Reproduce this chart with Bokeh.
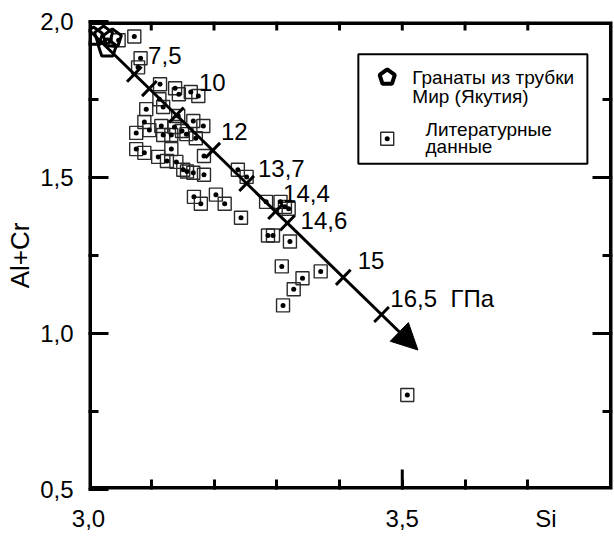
import math
from bokeh.plotting import figure
from bokeh.models import (FixedTicker, CustomJSTickFormatter, Arrow,
                          NormalHead, ColumnDataSource)
from bokeh.core.properties import value
from bokeh.embed import file_html
from bokeh.resources import INLINE

# ---------------- data ----------------
# literature data (squares with dots)
SI_LIT = [3.048, 3.073, 3.083, 3.079, 3.114, 3.138, 3.144, 3.163, 3.175, 3.113,
          3.119, 3.092, 3.143, 3.089, 3.097, 3.076, 3.116, 3.137, 3.149, 3.167,
          3.183, 3.119, 3.132, 3.156, 3.171, 3.132, 3.076, 3.089, 3.111, 3.125,
          3.140, 3.151, 3.157, 3.167, 3.184, 3.184, 3.238, 3.252, 3.168, 3.179,
          3.203, 3.217, 3.243, 3.283, 3.306, 3.313, 3.319, 3.286, 3.294, 3.321,
          3.308, 3.341, 3.327, 3.370, 3.310, 3.508]
ALCR_LIT = [1.940, 1.952, 1.882, 1.853, 1.799, 1.786, 1.767, 1.774, 1.761, 1.751,
            1.726, 1.719, 1.697, 1.678, 1.652, 1.643, 1.665, 1.662, 1.649, 1.681,
            1.665, 1.636, 1.636, 1.639, 1.626, 1.591, 1.591, 1.579, 1.566, 1.553,
            1.550, 1.525, 1.519, 1.515, 1.509, 1.569, 1.525, 1.502, 1.438, 1.416,
            1.445, 1.416, 1.371, 1.422, 1.422, 1.406, 1.400, 1.314, 1.314, 1.295,
            1.215, 1.177, 1.142, 1.199, 1.090, 0.803]
# garnets from the Mir pipe (pentagons)
SI_MIR = [3.008, 3.024, 3.038, 3.030]
ALCR_MIR = [1.952, 1.955, 1.946, 1.914]

# pressure trend arrow
ARROW_SI = [3.0016, 3.525]
ARROW_ALCR = [1.971, 0.947]
CROSS_SI = [3.073, 3.097, 3.140, 3.198, 3.252, 3.298, 3.317, 3.406, 3.467]
CROSS_ALCR = [1.831, 1.785, 1.700, 1.587, 1.481, 1.391, 1.354, 1.180, 1.061]
P_LABELS = ["7,5", "10", "12", "13,7", "14,4", "14,6", "15",
            "16,5\u00a0\u00a0ГПа"]
P_LABEL_SI = [3.095, 3.176, 3.211, 3.270, 3.310, 3.338, 3.429, 3.481]
P_LABEL_ALCR = [1.892, 1.805, 1.646, 1.528, 1.448, 1.362, 1.234, 1.113]

X_MAJOR = [3.0, 3.5]
X_MINOR = [3.1, 3.2, 3.3, 3.4, 3.5, 3.6, 3.7]
X_NAME = "Si"
X_NAME_POS = 3.729
Y_MAJOR = [0.5, 1.0, 1.5, 2.0]
Y_MINOR = [0.75, 1.25, 1.75]
Y_NAME = "Al+Cr"

LEGEND_TEXT_1 = ["Гранаты из трубки", "Мир (Якутия)"]
LEGEND_TEXT_2 = ["Литературные", "данные"]

# ---------------- layout ----------------
X_RANGE = (3.0, 3.835)
Y_RANGE = (0.5, 2.0)
FW, FH = 524, 468
FONT = "Liberation Sans"
SX = FW / (X_RANGE[1] - X_RANGE[0])   # px per Si unit
SY = FH / (Y_RANGE[1] - Y_RANGE[0])   # px per Al+Cr unit
MAJ, MIN, TOPT = 20, 10, 9           # tick lengths (px)

p = figure(frame_width=FW, frame_height=FH, x_range=X_RANGE, y_range=Y_RANGE,
           output_backend="svg", toolbar_location=None,
           min_border_left=88, min_border_right=1, min_border_top=21,
           min_border_bottom=44, outline_line_color=None,
           background_fill_color="white", border_fill_color="white")
p.grid.visible = False


def style(ax):
    ax.axis_line_color = None
    ax.major_tick_line_width = 3
    ax.minor_tick_line_width = 3
    ax.major_tick_line_color = "black"
    ax.minor_tick_line_color = "black"
    ax.major_tick_out = 0
    ax.minor_tick_in = MIN
    ax.minor_tick_out = 0
    ax.major_label_text_font = FONT
    ax.major_label_text_font_size = "24px"
    ax.major_label_text_color = "black"


xa = p.xaxis[0]
xa.ticker = FixedTicker(ticks=X_MAJOR + [X_NAME_POS], minor_ticks=X_MINOR)
xa.formatter = CustomJSTickFormatter(
    args=dict(name=X_NAME, pos=X_NAME_POS),
    code="if (Math.abs(tick - pos) < 1e-6) { return name; }"
         " return tick.toFixed(1).replace('.', ',');")
style(xa)
xa.major_tick_in = 0
xa.major_label_standoff = 15

ya = p.yaxis[0]
ya.ticker = FixedTicker(ticks=Y_MAJOR, minor_ticks=Y_MINOR)
ya.formatter = CustomJSTickFormatter(code="return tick.toFixed(1).replace('.', ',');")
style(ya)
ya.major_tick_in = MAJ
ya.major_label_standoff = 15
ya.axis_label = Y_NAME
ya.axis_label_text_font = FONT
ya.axis_label_text_font_size = "26px"
ya.axis_label_text_font_style = "normal"
ya.axis_label_text_color = "black"
ya.axis_label_standoff = 2

# frame border (drawn wide: the half inside the frame stays visible)
p.quad(left=[X_RANGE[0]], right=[X_RANGE[1]], bottom=[Y_RANGE[0]], top=[Y_RANGE[1]],
       fill_color=None, line_color="black", line_width=7)

# inward ticks on bottom (long 3.5), top and right edges of the frame
tick_x0, tick_y0, tick_x1, tick_y1 = [], [], [], []
for x in X_MAJOR[1:]:
    tick_x0.append(x); tick_y0.append(Y_RANGE[0])
    tick_x1.append(x); tick_y1.append(Y_RANGE[0] + MAJ / SY)
for x in X_MINOR:
    tick_x0.append(x); tick_y0.append(Y_RANGE[1])
    tick_x1.append(x); tick_y1.append(Y_RANGE[1] - TOPT / SY)
for y in Y_MAJOR[1:-1]:
    tick_x0.append(X_RANGE[1]); tick_y0.append(y)
    tick_x1.append(X_RANGE[1] - MAJ / SX); tick_y1.append(y)
for y in Y_MINOR:
    tick_x0.append(X_RANGE[1]); tick_y0.append(y)
    tick_x1.append(X_RANGE[1] - MIN / SX); tick_y1.append(y)
p.segment(tick_x0, tick_y0, tick_x1, tick_y1, line_color="black", line_width=3)

# ---------------- points ----------------
lit = ColumnDataSource(dict(x=SI_LIT, y=ALCR_LIT))
p.scatter("x", "y", source=lit, marker="square", size=13, fill_color=None,
          line_color="#2a2a2a", line_width=1.4)
p.scatter("x", "y", source=lit, marker="circle", size=5, fill_color="black",
          line_color=None)


def pentagon(cx, cy, r):
    xs, ys = [], []
    for k in range(5):
        a = math.radians(90 + 72 * k)
        xs.append(cx + r * math.cos(a) / SX)
        ys.append(cy + r * math.sin(a) / SY)
    return xs, ys


pxs, pys = [], []
for cx, cy in zip(SI_MIR, ALCR_MIR):
    a, b = pentagon(cx, cy, 9.5)
    pxs.append(a)
    pys.append(b)
p.patches(pxs, pys, fill_color=None, line_color="black", line_width=3)

# ---------------- arrow with pressure crosses ----------------
p.add_layout(Arrow(end=NormalHead(size=26, fill_color="black", line_color="black",
                                  line_width=1),
                   x_start=ARROW_SI[0], y_start=ARROW_ALCR[0],
                   x_end=ARROW_SI[1], y_end=ARROW_ALCR[1],
                   line_width=3, line_color="black"))

dxp = (ARROW_SI[1] - ARROW_SI[0]) * SX
dyp = (ARROW_ALCR[1] - ARROW_ALCR[0]) * SY
L = math.hypot(dxp, dyp)
HALF = 10.5
ux = -dyp / L * HALF / SX
uy = dxp / L * HALF / SY
p.segment(x0=[x - ux for x in CROSS_SI], y0=[y - uy for y in CROSS_ALCR],
          x1=[x + ux for x in CROSS_SI], y1=[y + uy for y in CROSS_ALCR],
          line_color="black", line_width=3)

p.text(x=P_LABEL_SI, y=P_LABEL_ALCR, text=P_LABELS, text_font=value(FONT),
       text_font_size="24px", text_align="left", text_baseline="middle",
       text_color="black")

# ---------------- legend (drawn) ----------------
LG_L, LG_R, LG_B, LG_T = 3.430, 3.795, 1.544, 1.895
p.quad(left=[LG_L], right=[LG_R], bottom=[LG_B], top=[LG_T], fill_color="white",
       line_color="black", line_width=2)
a, b = pentagon(3.476, 1.821, 8)
p.patches([a], [b], fill_color=None, line_color="black", line_width=4)
p.scatter([3.476], [1.624], marker="square", size=13, fill_color=None,
          line_color="#2a2a2a", line_width=1.4)
p.scatter([3.476], [1.624], marker="circle", size=5, fill_color="black",
          line_color=None)
p.text(x=[3.516, 3.516], y=[1.821, 1.761], text=LEGEND_TEXT_1,
       text_font=value(FONT), text_font_size="19px", text_align="left",
       text_baseline="middle", text_color="black")
p.text(x=[3.537, 3.537], y=[1.655, 1.598], text=LEGEND_TEXT_2,
       text_font=value(FONT), text_font_size="19px", text_align="left",
       text_baseline="middle", text_color="black")

open("out.html", "w").write(file_html(p, INLINE))
